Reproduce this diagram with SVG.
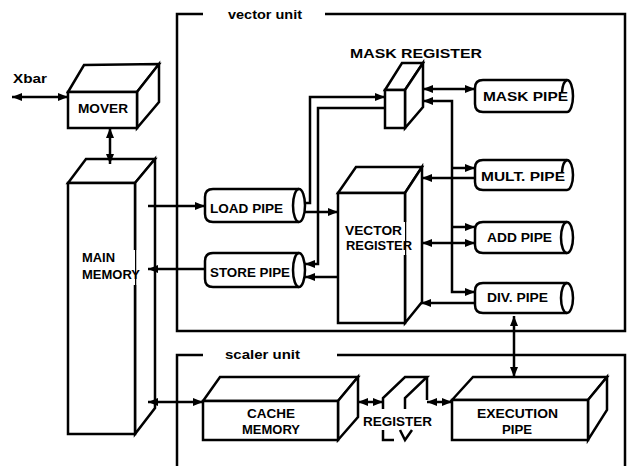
<svg xmlns="http://www.w3.org/2000/svg" width="630" height="466" viewBox="0 0 630 466">
<defs>
<style>
.s{fill:none;stroke:#000;stroke-width:2.5;stroke-linejoin:miter}
.b{fill:#fff;stroke:#000;stroke-width:2.5;stroke-linejoin:miter}
.c{fill:none;stroke:#000;stroke-width:2.5}
.t{font-family:"Liberation Sans",Arial,sans-serif;font-weight:bold;font-size:13px;fill:#000}
</style>
<marker id="ah" viewBox="0 0 10 8" refX="10" refY="4" markerWidth="10" markerHeight="8" orient="auto-start-reverse" markerUnits="userSpaceOnUse"><path d="M0,0 L10,4 L0,8 Z" fill="#000"/></marker>
</defs>
<rect width="630" height="466" fill="#fff"/>

<g id="vector-unit-frame">
<path class="s" d="M203,14 H177 V331 H625 V14 H325"/>
<text class="t" x="228" y="19" textLength="74" lengthAdjust="spacingAndGlyphs">vector unit</text>
</g>
<g id="scalar-unit-frame">
<path class="s" d="M203,355 H177 V466"/>
<path class="s" d="M337,355 H625 V466"/>
<text class="t" x="225" y="359" textLength="75" lengthAdjust="spacingAndGlyphs">scaler unit</text>
</g>

<g id="xbar">
<text class="t" x="13" y="83" textLength="34" lengthAdjust="spacingAndGlyphs">Xbar</text>
</g>

<g id="mover">
<path class="b" d="M68,92 L84,65 L159,64 L137,92 Z"/>
<path class="b" d="M137,92 L159,64 L159,102 L137,128 Z"/>
<rect class="b" x="68" y="92" width="69" height="36"/>
<text class="t" x="78" y="113" textLength="50" lengthAdjust="spacingAndGlyphs">MOVER</text>
</g>

<g id="main-memory">
<path class="b" d="M68,183 L86,159 L155,159 L135,183 Z"/>
<path class="b" d="M135,183 L155,159 L155,408 L135,434 Z"/>
<rect x="68" y="183" width="67" height="251" fill="#fff"/>
<path class="s" d="M135,250 V183 H68 V434 H135 V285"/>
<text class="t" x="82" y="262" textLength="33" lengthAdjust="spacingAndGlyphs">MAIN</text>
<text class="t" x="82" y="279" textLength="58" lengthAdjust="spacingAndGlyphs">MEMORY</text>
</g>

<g id="load-pipe">
<path class="b" d="M213,189 H299 A6,16.5 0 0 1 299,222 H213 Q205,222 205,214 V197 Q205,189 213,189 Z"/>
<path class="c" d="M299,189 A6,16.5 0 0 0 299,222"/>
<text class="t" x="210" y="213" textLength="73" lengthAdjust="spacingAndGlyphs">LOAD PIPE</text>
</g>

<g id="store-pipe">
<path class="b" d="M213,253 H299 A6,17 0 0 1 299,287 H213 Q205,287 205,279 V261 Q205,253 213,253 Z"/>
<path class="c" d="M299,253 A6,17 0 0 0 299,287"/>
<text class="t" x="210" y="277" textLength="80" lengthAdjust="spacingAndGlyphs">STORE PIPE</text>
</g>

<g id="mask-register">
<path class="b" d="M385,90 L402,63 L423,63 L405,90 Z"/>
<path class="b" d="M405,90 L423,63 L423,107 L405,128 Z"/>
<rect class="b" x="385" y="90" width="20" height="38"/>
<text class="t" x="350" y="58" textLength="132" lengthAdjust="spacingAndGlyphs">MASK REGISTER</text>
</g>

<g id="vector-register">
<path class="b" d="M338,193 L356,167 L422,167 L405,193 Z"/>
<path class="b" d="M405,193 L422,167 L422,302 L405,323 Z"/>
<rect x="338" y="193" width="67" height="130" fill="#fff"/>
<path class="s" d="M405,222 V193 H338 V323 H405 V255"/>
<text class="t" x="345" y="235" textLength="57" lengthAdjust="spacingAndGlyphs">VECTOR</text>
<text class="t" x="346" y="250" textLength="66" lengthAdjust="spacingAndGlyphs">REGISTER</text>
</g>

<g id="mask-pipe">
<path class="b" d="M483,80 H567 A6,16 0 0 1 567,112 H483 Q475,112 475,104 V88 Q475,80 483,80 Z"/>
<path class="c" d="M567,80 A6,16 0 0 0 562,92"/>
<text class="t" x="483" y="101" textLength="85" lengthAdjust="spacingAndGlyphs">MASK PIPE</text>
</g>

<g id="mult-pipe">
<path class="b" d="M483,160 H567 A6,15 0 0 1 567,190 H483 Q475,190 475,182 V168 Q475,160 483,160 Z"/>
<path class="c" d="M567,160 A6,15 0 0 0 562,172"/>
<text class="t" x="481" y="181" textLength="84" lengthAdjust="spacingAndGlyphs">MULT. PIPE</text>
</g>

<g id="add-pipe">
<path class="b" d="M483,222 H567 A6,15.5 0 0 1 567,253 H483 Q475,253 475,245 V230 Q475,222 483,222 Z"/>
<path class="c" d="M567,222 A6,15.5 0 0 0 567,253"/>
<text class="t" x="487" y="242" textLength="65" lengthAdjust="spacingAndGlyphs">ADD PIPE</text>
</g>

<g id="div-pipe">
<path class="b" d="M483,283 H567 A6,15 0 0 1 567,313 H483 Q475,313 475,305 V291 Q475,283 483,283 Z"/>
<path class="c" d="M567,283 A6,15 0 0 0 567,313"/>
<text class="t" x="487" y="302" textLength="61" lengthAdjust="spacingAndGlyphs">DIV. PIPE</text>
</g>

<g id="cache-memory">
<path class="b" d="M203,401 L220,377 L358,377 L338,401 Z"/>
<path class="b" d="M338,401 L358,377 L358,417 L338,440 Z"/>
<rect class="b" x="203" y="401" width="135" height="39"/>
<text class="t" x="247" y="418" textLength="48" lengthAdjust="spacingAndGlyphs">CACHE</text>
<text class="t" x="242" y="434" textLength="58" lengthAdjust="spacingAndGlyphs">MEMORY</text>
</g>

<g id="scalar-register">
<path class="s" d="M383,409 V398 L405,377 H427 L405,398 V409"/>
<path class="s" d="M427,377 V400"/>
<path class="s" d="M383,430 V440 H394"/>
<path class="s" d="M400,430 L405,440 L412,430"/>
<text class="t" x="363" y="426" font-size="12" textLength="69" lengthAdjust="spacingAndGlyphs">REGISTER</text>
</g>

<g id="execution-pipe">
<path class="b" d="M452,400 L473,377 L607,377 L588,400 Z"/>
<path class="b" d="M588,400 L607,377 L607,410 L588,440 Z"/>
<rect class="b" x="452" y="400" width="136" height="40"/>
<text class="t" x="477" y="418" textLength="81" lengthAdjust="spacingAndGlyphs">EXECUTION</text>
<text class="t" x="502" y="434" textLength="30" lengthAdjust="spacingAndGlyphs">PIPE</text>
</g>

<g id="connectors" class="c">
<path d="M12,97 H68" marker-start="url(#ah)" marker-end="url(#ah)"/>
<path d="M110,128 V164" marker-start="url(#ah)" marker-end="url(#ah)"/>
<path d="M148,206 H205" marker-end="url(#ah)"/>
<path d="M205,269 H148" marker-end="url(#ah)"/>
<path d="M148,402 H203" marker-start="url(#ah)" marker-end="url(#ah)"/>
<path d="M305,203 H310 V97 H385" marker-end="url(#ah)"/>
<path d="M385,108 H318 V264 H305" marker-end="url(#ah)"/>
<path d="M305,212 H338" marker-end="url(#ah)"/>
<path d="M338,277 H305" marker-end="url(#ah)"/>
<path d="M423,89 H475" marker-start="url(#ah)" marker-end="url(#ah)"/>
<path d="M423,101 H452 V292 H475" marker-start="url(#ah)" marker-end="url(#ah)"/>
<path d="M452,168 H475" marker-end="url(#ah)"/>
<path d="M452,227 H475" marker-end="url(#ah)"/>
<path d="M475,178 H422" marker-end="url(#ah)"/>
<path d="M422,243 H475" marker-start="url(#ah)" marker-end="url(#ah)"/>
<path d="M475,303 H421" marker-end="url(#ah)"/>
<path d="M514,316 V377" marker-start="url(#ah)" marker-end="url(#ah)"/>
<path d="M358,402 H383" marker-start="url(#ah)" marker-end="url(#ah)"/>
<path d="M427,402 H452" marker-start="url(#ah)" marker-end="url(#ah)"/>
</g>
</svg>
